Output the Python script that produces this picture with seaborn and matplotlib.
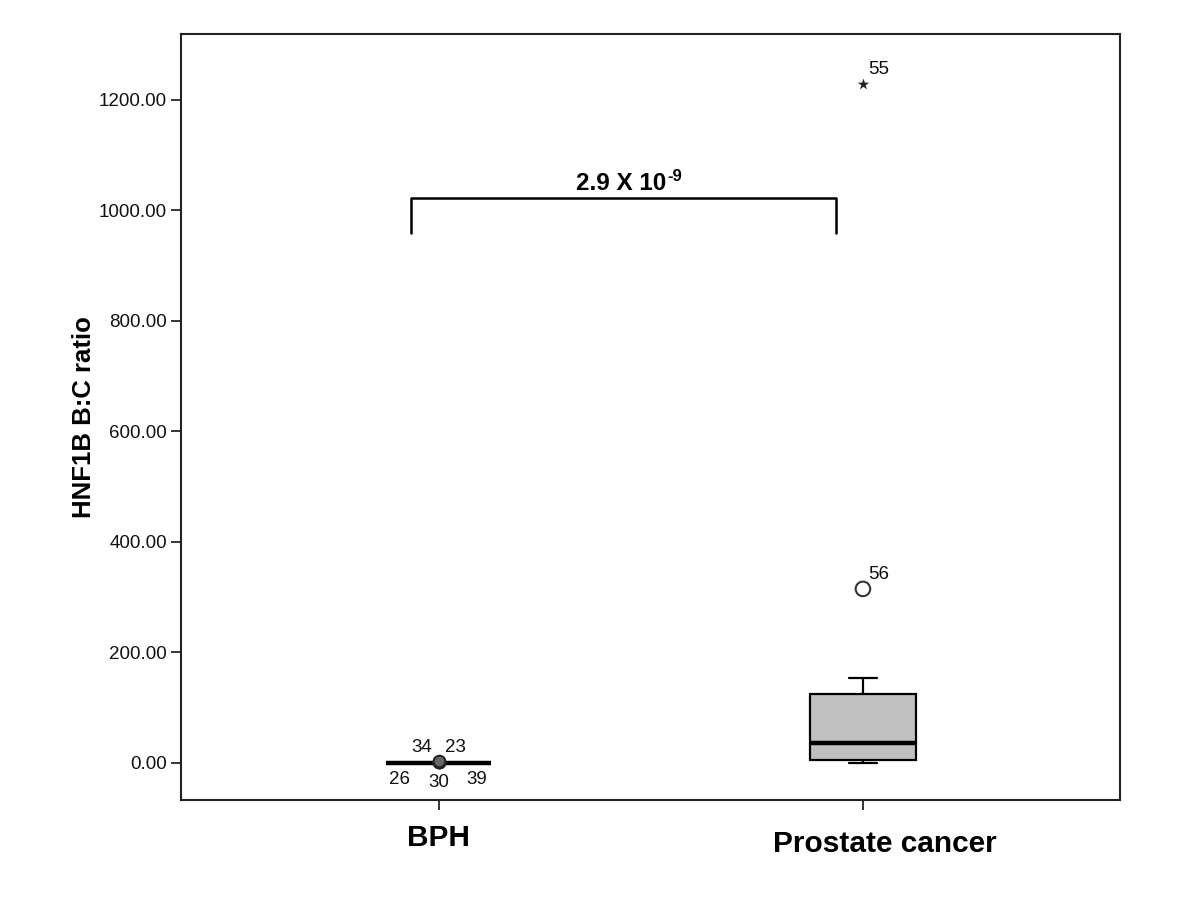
import numpy as np
import pandas as pd
import matplotlib
matplotlib.use('Agg')
import matplotlib.pyplot as plt
import matplotlib.transforms as mtransforms
import seaborn as sns

# ── DATA ──────────────────────────────────────
groups = ["BPH", "Prostate cancer"]

# HNF1B B:C ratio per sample
bph_values = [0.01, 0.01, 0.02, 0.02, 0.02, 0.02, 0.02, 0.02, 0.03, 0.03,
              0.03, 0.03, 0.03, 0.04, 0.04, 0.04, 0.05,
              1.2, 1.5, 2.1, 2.6, 3.0]
pc_values = [0.2, 0.5, 1.0, 2.0, 3.5, 5.0, 8.0, 13.0, 20.0, 28.0, 36.0,
             45.0, 57.0, 72.0, 98.0, 125.0, 133.0, 146.0, 154.0, 315.0, 1229.0]

# outliers shown with their case numbers
bph_out_vals = [1.2, 1.5, 2.1, 2.6, 3.0]
bph_out_ids = ["26", "34", "30", "23", "39"]
pc_out_vals = [315.0, 1229.0]
pc_out_ids = ["56", "55"]
pc_out_marker = ["o", "*"]

p_base = "2.9 X 10"
p_exp = "-9"
y_ticks = [0, 200, 400, 600, 800, 1000, 1200]

df = pd.DataFrame({
    "group": ["BPH"] * len(bph_values) + ["Prostate cancer"] * len(pc_values),
    "ratio": bph_values + pc_values,
})

# ── STYLE ─────────────────────────────────────
sns.set_theme(style="ticks")
plt.rcParams['font.family'] = ['Liberation Sans', 'DejaVu Sans']

fig = plt.figure(figsize=(12, 9), dpi=100)
ax = fig.add_axes([0.1508, 0.1111, 0.7825, 0.8511])

sns.boxplot(data=df, x="group", y="ratio", order=groups, ax=ax,
            color="#c0c0c0", saturation=1, linecolor="black", linewidth=1.6,
            width=0.248, showfliers=False, whis=1.5,
            medianprops={"linewidth": 3.2, "color": "black"},
            capwidths=0.065)

# outliers
for v, lab in zip(bph_out_vals, bph_out_ids):
    ax.scatter(0, v, s=70, facecolor="#666666", edgecolor="#222222", linewidth=1.4, zorder=5)
bph_offsets = {"34": (-12, 11), "23": (12, 11), "26": (-28, -12),
               "30": (0, -14), "39": (27, -12)}
for lab in bph_out_ids:
    ax.annotate(lab, (0, 0), xytext=bph_offsets[lab], textcoords="offset points",
                ha="center", va="center", fontsize=13.5, color="#111111")

for v, lab, m in zip(pc_out_vals, pc_out_ids, pc_out_marker):
    if m == "*":
        ax.scatter(1, v, s=75, marker="*", color="#222222", linewidth=0, zorder=5)
    else:
        ax.scatter(1, v, s=110, facecolor="none", edgecolor="#333333", linewidth=1.5, zorder=5)
    ax.annotate(lab, (1, v), xytext=(4, 4), textcoords="offset points",
                ha="left", va="bottom", fontsize=13.5, color="#111111")

# significance bracket
ax.plot([-0.066, -0.066, 0.936, 0.936], [959, 1023, 1023, 959], color="black", lw=1.8)
ax.text(0.429, 1028, p_base, ha="center", va="bottom", fontsize=17.5,
        fontweight="bold", color="black")
ax.text(0.540, 1048, p_exp, ha="left", va="bottom", fontsize=12,
        fontweight="bold", color="black")

# ── AXES ──────────────────────────────────────
ax.set_xlim(-0.608, 1.606)
ax.set_ylim(-67, 1319)
ax.set_yticks(y_ticks)
ax.set_yticklabels([f"{t:.2f}" for t in y_ticks], fontsize=13.5, color="#111111")
ax.set_xticks([0, 1])
ax.set_xticklabels(groups, fontsize=21.5, fontweight="bold", color="black")
ax.set_xlabel("")
ax.set_ylabel("HNF1B B:C ratio", fontsize=18.5, fontweight="bold", labelpad=2,
              color="black")
ax.tick_params(axis="y", length=7, width=1.3, pad=3)
ax.tick_params(axis="x", length=7, width=1.3, pad=10)
for s in ax.spines.values():
    s.set_visible(True)
    s.set_linewidth(1.5)
    s.set_color("#222222")

# SPSS puts the second category label a bit right of (and below) its tick
pc_label = ax.get_xticklabels()[1]
pc_label.set_transform(pc_label.get_transform() +
                       mtransforms.ScaledTranslation(0.22, -0.06, fig.dpi_scale_trans))

plt.savefig("out.png", dpi=100)
